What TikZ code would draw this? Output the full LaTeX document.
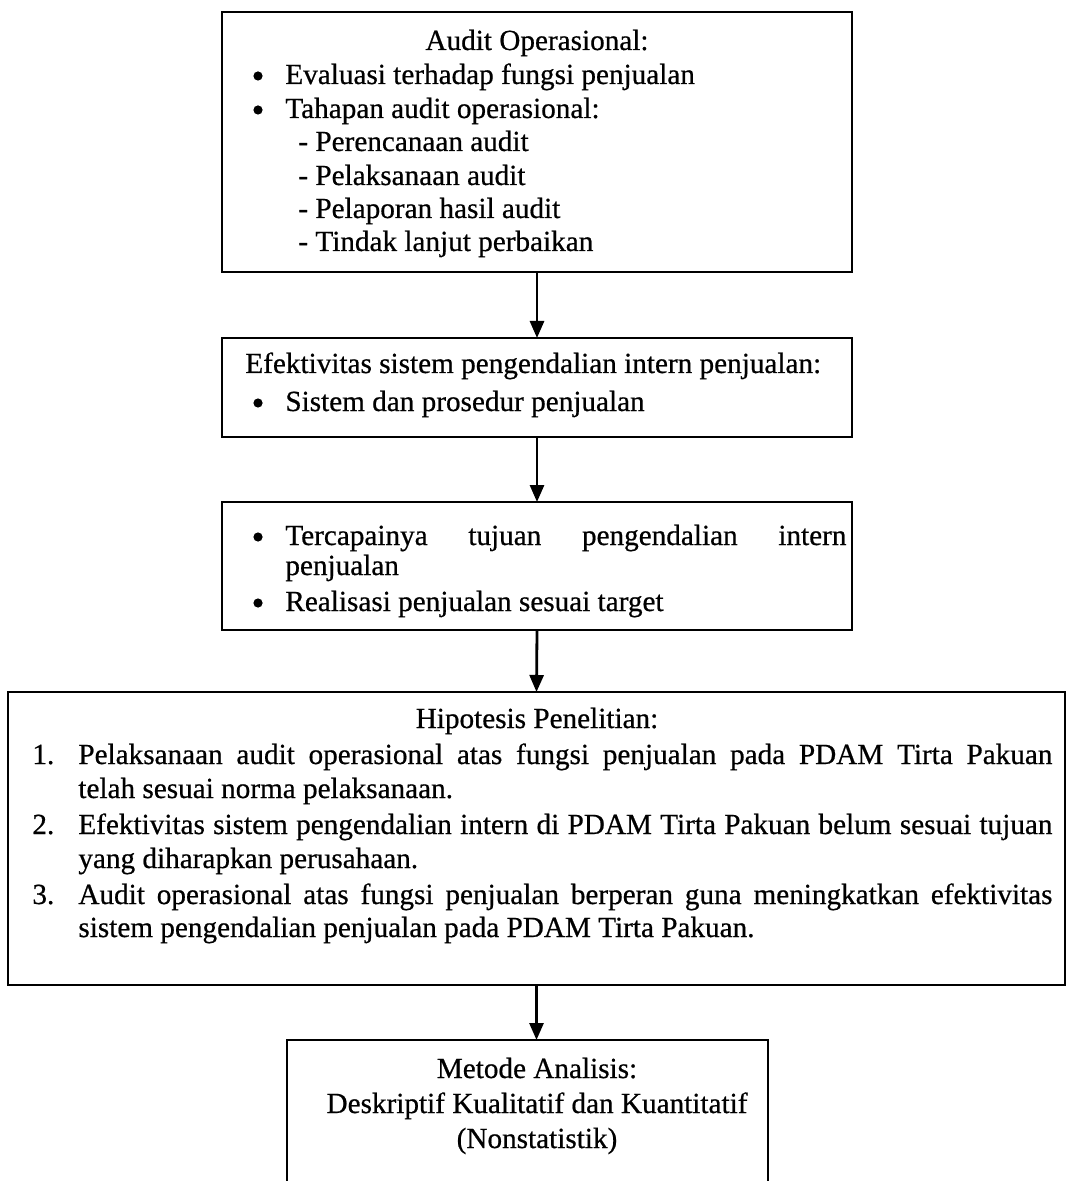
\documentclass[tikz,border=0pt]{standalone}
\usepackage{fontspec}
\setmainfont{Liberation Serif}[BoldFont=Liberation Serif, BoldFeatures={FakeBold=0.6}]
\usetikzlibrary{arrows.meta}
\begin{document}
\begin{tikzpicture}[x=0.5pt,y=-0.5pt,
  box/.style={draw, line width=1.4pt, rectangle, inner sep=0pt, outer sep=0pt},
  flow/.style={line width=1.4pt, -{Triangle[width=7pt,length=8.5pt]}},
  txt/.style={anchor=base west, inner sep=0pt, font=\fontsize{14.6}{17}\selectfont\bfseries},
  ctxt/.style={anchor=base, inner sep=0pt, font=\fontsize{14.6}{17}\selectfont\bfseries},
  dot/.style={circle, fill, inner sep=0pt, minimum size=4.6pt}]
% page frame
\useasboundingbox (0,0) rectangle (1073,1181);
\clip (0,0) rectangle (1073,1181);

% boxes
\node[box, minimum width=315pt, minimum height=130pt] (b1) at (537,142) {};
\node[box, minimum width=315pt, minimum height=49.5pt] (b2) at (537,387.5) {};
\node[box, minimum width=315pt, minimum height=64pt] (b3) at (537,566) {};
\node[box, minimum width=528.5pt, minimum height=146.5pt] (b4) at (536.5,838.5) {};
\node[box, minimum width=240.5pt, minimum height=75pt] (b5) at (527.5,1115) {};

% box 1: operational audit
\node[ctxt] (a0) at (537,50) {Audit Operasional:};
\node[dot] (a1b) at (258,76) {};
\node[txt] (a1) at (285,84) {Evaluasi terhadap fungsi penjualan};
\node[dot] (a2b) at (258,110) {};
\node[txt] (a2) at (285,118) {Tahapan audit operasional:};
\node[txt] (a3) at (298,151) {- Perencanaan audit};
\node[txt] (a4) at (298,185) {- Pelaksanaan audit};
\node[txt] (a5) at (298,218) {- Pelaporan hasil audit};
\node[txt] (a6) at (298,251) {- Tindak lanjut perbaikan};

% box 2: internal control effectiveness
\node[txt] (e0) at (245,373) {Efektivitas sistem pengendalian intern penjualan:};
\node[dot] (e1b) at (258,403) {};
\node[txt] (e1) at (285,411) {Sistem dan prosedur penjualan};

% box 3: outcomes
\node[dot] (o1b) at (258,537) {};
\node[txt] (o1) at (285,545) {\makebox[280.5pt][s]{Tercapainya tujuan pengendalian intern}};
\node[txt] (o1c) at (285,575) {penjualan};
\node[dot] (o2b) at (258,603) {};
\node[txt] (o2) at (285,611) {Realisasi penjualan sesuai target};

% box 4: hypotheses
\node[ctxt] (h0) at (537,728) {Hipotesis Penelitian:};
\node[txt] (h1n) at (32,764) {1.};
\node[txt] (h1) at (78,764) {\makebox[487pt][s]{Pelaksanaan audit operasional atas fungsi penjualan pada PDAM Tirta Pakuan}};
\node[txt] (h1c) at (78,798) {telah sesuai norma pelaksanaan.};
\node[txt] (h2n) at (32,834) {2.};
\node[txt] (h2) at (78,834) {\makebox[487pt][s]{Efektivitas sistem pengendalian intern di PDAM Tirta Pakuan belum sesuai tujuan}};
\node[txt] (h2c) at (78,868) {yang diharapkan perusahaan.};
\node[txt] (h3n) at (32,904) {3.};
\node[txt] (h3) at (78,904) {\makebox[487pt][s]{Audit operasional atas fungsi penjualan berperan guna meningkatkan efektivitas}};
\node[txt] (h3c) at (78,937) {sistem pengendalian penjualan pada PDAM Tirta Pakuan.};

% box 5: analysis method
\node[ctxt] (m0) at (537,1078) {Metode Analisis:};
\node[ctxt] (m1) at (537,1113) {Deskriptif Kualitatif dan Kuantitatif};
\node[ctxt] (m2) at (537,1148) {(Nonstatistik)};

% connectors
\draw[flow] (b1.south) -- (b2.north);
\draw[flow] (b2.south) -- (b3.north);
\draw[flow] (b3.south) -- (b4.north);
\draw[flow] (b4.south) -- (b4.south |- b5.north);
\end{tikzpicture}
\end{document}
